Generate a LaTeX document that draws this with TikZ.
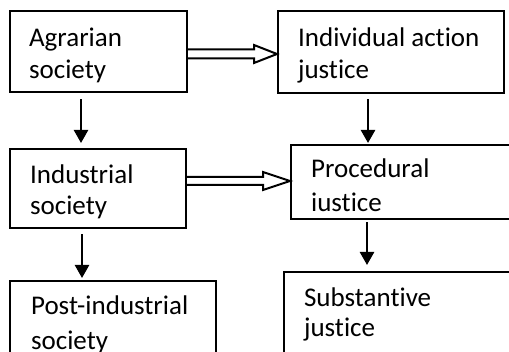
\documentclass[tikz,border=0pt]{standalone}
\usepackage{fontspec}
\setmainfont{Carlito}[Ligatures={NoCommon}]
\usetikzlibrary{arrows.meta,calc}
\tikzset{
  box/.style={draw, line width=2.2pt, rectangle, anchor=north west, inner ysep=0pt,
    font=\fontsize{27}{30}\selectfont},
  downarrow/.style={line width=2.5pt, -{Triangle[width=14pt,length=13pt]}},
  hollowarrow/.style={line width=2pt, line join=miter}
}
\begin{document}
\begin{tikzpicture}[x=1pt,y=-1pt]
\useasboundingbox (0,0) rectangle (509,352);
\clip (0,0) rectangle (509,352);
\fill[white] (0,0) rectangle (509,352);
% left column
\node[box, inner xsep=19pt, text height=35pt, text depth=46pt] (agr) at (9,10)
  {\parbox[t]{139pt}{Agrarian\\[2pt]society}};
\node[box, inner xsep=20pt, text height=34pt, text depth=45pt] (ind) at (9,148)
  {\parbox[t]{136pt}{Industrial\\[1pt]society}};
\node[box, inner xsep=21pt, text height=33pt, text depth=67pt] (post) at (9,280)
  {\parbox[t]{164pt}{Post-industrial\\[5pt]society}};
% right column
\node[box, inner xsep=20pt, text height=35pt, text depth=47pt] (iaj) at (277,10)
  {\parbox[t]{186pt}{Individual action\\[2pt]justice}};
\node[box, inner xsep=20pt, text height=32pt, text depth=42pt] (proc) at (290,144)
  {\parbox[t]{190pt}{Procedural\\[4pt]iustice}};
\node[box, inner xsep=20pt, text height=34pt, text depth=66pt] (subs) at (283,271)
  {\parbox[t]{190pt}{Substantive\\[0pt]justice}};
% vertical arrows
\draw[downarrow, shorten <=6pt, shorten >=5pt] (81,0 |- agr.south) -- (81,0 |- ind.north);
\draw[downarrow, shorten <=5pt, shorten >=2pt] (82,0 |- ind.south) -- (82,0 |- post.north);
\draw[downarrow, shorten <=5pt, shorten >=1pt] (368,0 |- iaj.south) -- (368,0 |- proc.north);
\draw[downarrow, shorten <=2pt, shorten >=6pt] (367,0 |- proc.south) -- (367,0 |- subs.north);
% hollow double arrows
\draw[hollowarrow] (agr.east |- 0,49.5) -- (254,49.5) -- (254,45) -- (iaj.west |- 0,54)
  -- (254,63) -- (254,58.5) -- (agr.east |- 0,58.5);
\draw[hollowarrow] (ind.east |- 0,177) -- (263,177) -- (263,172) -- (proc.west |- 0,181)
  -- (263,190) -- (263,185) -- (ind.east |- 0,185);
\end{tikzpicture}
\end{document}
